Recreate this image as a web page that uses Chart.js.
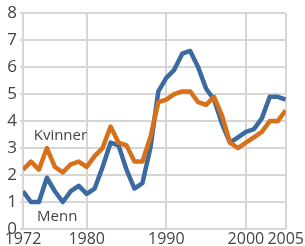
<!DOCTYPE html>
<html>
<head>
<meta charset="utf-8">
<script src="https://cdn.jsdelivr.net/npm/chart.js@4/dist/chart.umd.min.js"></script>
<style>
html,body{margin:0;padding:0;background:#fff;}
#wrap{position:relative;width:305px;height:246px;}
</style>
</head>
<body>
<div id="wrap"><canvas id="c" width="305" height="246"></canvas></div>
<script>
const years = [1972,1973,1974,1975,1976,1977,1978,1979,1980,1981,1982,1983,1984,1985,1986,1987,1988,1989,1990,1991,1992,1993,1994,1995,1996,1997,1998,1999,2000,2001,2002,2003,2004,2005];
const kvinner = [2.2,2.5,2.2,3.0,2.3,2.1,2.4,2.5,2.3,2.7,3.0,3.8,3.2,3.1,2.5,2.5,3.4,4.7,4.8,5.0,5.1,5.1,4.7,4.6,4.9,4.2,3.2,3.0,3.2,3.4,3.6,4.0,4.0,4.4];
const menn = [1.4,1.0,1.0,1.9,1.4,1.0,1.4,1.6,1.3,1.5,2.3,3.2,3.1,2.2,1.5,1.7,3.0,5.1,5.6,5.9,6.5,6.6,6.0,5.2,4.8,3.9,3.2,3.4,3.6,3.7,4.1,4.9,4.9,4.8];
const xTicks = [1972,1980,1990,2000,2005];
const yTicks = [0,1,2,3,4,5,6,7,8];
const seriesLabels = ["Kvinner","Menn"];

const FONT = '"Open Sans", "Noto Sans", sans-serif';
const labelPlugin = {
  id: 'seriesLabels',
  afterDatasetsDraw(chart) {
    const ctx = chart.ctx;
    const xs = chart.scales.x, ys = chart.scales.y;
    ctx.save();
    ctx.font = '15px ' + FONT;
    ctx.fillStyle = '#444';
    ctx.textAlign = 'center';
    ctx.textBaseline = 'middle';
    ctx.fillText(seriesLabels[0], xs.getPixelForValue(1976.7), ys.getPixelForValue(3.45));
    ctx.fillText(seriesLabels[1], xs.getPixelForValue(1976.3), ys.getPixelForValue(0.45));
    ctx.restore();
  }
};

new Chart(document.getElementById('c'), {
  type: 'line',
  data: {
    datasets: [
      { label: seriesLabels[0], data: years.map((y,i)=>({x:y,y:kvinner[i]})), borderColor: '#d8701a', borderWidth: 4.5, pointRadius: 0, tension: 0, borderJoinStyle: 'round', borderCapStyle: 'butt' },
      { label: seriesLabels[1], data: years.map((y,i)=>({x:y,y:menn[i]})), borderColor: '#3a6aa0', borderWidth: 4.5, pointRadius: 0, tension: 0, borderJoinStyle: 'round', borderCapStyle: 'butt' }
    ]
  },
  options: {
    responsive: false,
    animation: false,
    layout: { padding: { top: 7, right: 16, left: 0, bottom: 0 } },
    plugins: { legend: { display: false }, tooltip: { enabled: false } },
    scales: {
      x: {
        type: 'linear', min: 1972, max: 2005,
        afterBuildTicks: s => { s.ticks = xTicks.map(v=>({value:v})); },
        afterFit: s => { s.height = 17; },
        ticks: { color: '#444', font: { family: FONT, size: 16 }, padding: 1, maxRotation: 0, autoSkip: false, callback: v => String(v) },
        grid: { color: '#d6d6d6', lineWidth: 2, drawTicks: false },
        border: { display: false }
      },
      y: {
        min: 0, max: 8,
        afterBuildTicks: s => { s.ticks = yTicks.map(v=>({value:v})); },
        afterFit: s => { s.width = 23; },
        ticks: { color: '#444', font: { family: FONT, size: 17 }, padding: 3 },
        grid: { color: '#d6d6d6', lineWidth: 2, tickLength: 3 },
        border: { display: false }
      }
    }
  },
  plugins: [labelPlugin]
});
</script>
</body>
</html>
